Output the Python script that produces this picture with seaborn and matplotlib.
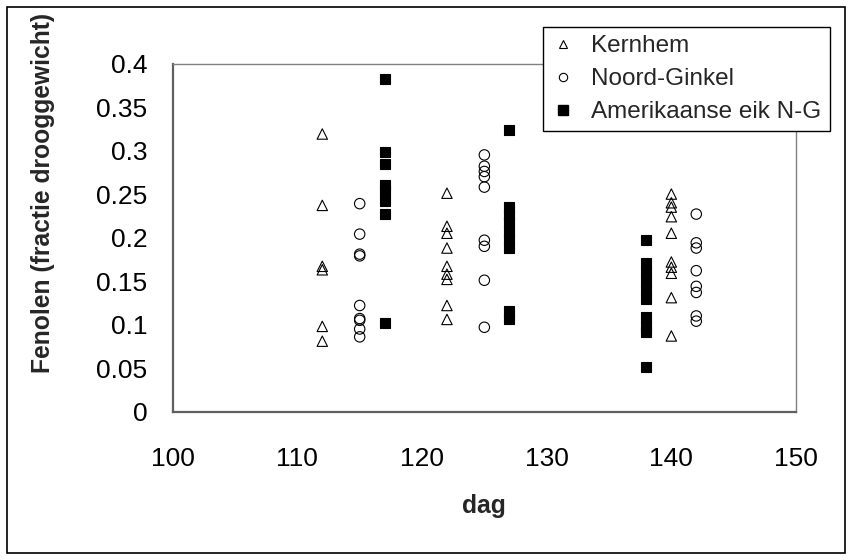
import matplotlib
matplotlib.use("Agg")
import matplotlib.pyplot as plt
from matplotlib.lines import Line2D
from matplotlib.patches import Rectangle
import numpy as np
import pandas as pd
import seaborn as sns

# Phenol content (fraction of dry weight) per sampling day, three sites
kernhem_dag = [112] * 6 + [122] * 9 + [140] * 10
kernhem_fenol = [0.319, 0.237, 0.167, 0.163, 0.098, 0.081,
                 0.251, 0.213, 0.205, 0.188, 0.167, 0.158, 0.152, 0.122, 0.106,
                 0.250, 0.240, 0.235, 0.224, 0.205, 0.172, 0.166, 0.159, 0.131, 0.087]

ginkel_dag = [115] * 9 + [125] * 9 + [142] * 8
ginkel_fenol = [0.239, 0.204, 0.181, 0.179, 0.122, 0.107, 0.105, 0.095, 0.086,
                0.295, 0.282, 0.276, 0.270, 0.258, 0.197, 0.190, 0.151, 0.097,
                0.227, 0.194, 0.188, 0.162, 0.144, 0.137, 0.110, 0.104]

eik_dag = [117] * 8 + [127] * 9 + [138] * 10
eik_fenol = [0.382, 0.298, 0.284, 0.260, 0.254, 0.242, 0.227, 0.102,
             0.324, 0.235, 0.226, 0.218, 0.208, 0.198, 0.188, 0.116, 0.106,
             0.197, 0.171, 0.160, 0.150, 0.140, 0.130, 0.109, 0.098, 0.092, 0.051]

series_names = ["Kernhem", "Noord-Ginkel", "Amerikaanse eik N-G"]
x_ticks = [100, 110, 120, 130, 140, 150]
y_ticks = [0, 0.05, 0.1, 0.15, 0.2, 0.25, 0.3, 0.35, 0.4]
y_tick_labels = ["0", "0.05", "0.1", "0.15", "0.2", "0.25", "0.3", "0.35", "0.4"]

df = pd.concat([
    pd.DataFrame({"dag": kernhem_dag, "fenol": kernhem_fenol, "locatie": series_names[0]}),
    pd.DataFrame({"dag": ginkel_dag, "fenol": ginkel_fenol, "locatie": series_names[1]}),
    pd.DataFrame({"dag": eik_dag, "fenol": eik_fenol, "locatie": series_names[2]}),
], ignore_index=True)

sns.set_theme(style="white")
plt.rcParams["font.family"] = ["Liberation Sans", "DejaVu Sans"]

W, H = 851, 560
fig = plt.figure(figsize=(W / 100, H / 100), dpi=100)
ax = fig.add_axes([172.7 / W, 1 - 411.7 / H, (796 - 172.7) / W, (411.7 - 63.5) / H])

styles = {
    series_names[0]: dict(marker="^", hollow=True),
    series_names[1]: dict(marker="o", hollow=True),
    series_names[2]: dict(marker="s", hollow=False),
}
for name in series_names:
    sub = df[df["locatie"] == name]
    st = styles[name]
    sns.scatterplot(data=sub, x="dag", y="fenol", ax=ax, marker=st["marker"],
                    color="black", edgecolor="black", s=56, linewidth=0.8,
                    legend=False, zorder=3)
    if st["hollow"]:
        ax.collections[-1].set_facecolor("none")

ax.set_xlim(100, 150)
ax.set_ylim(0, 0.4)
ax.set_xticks(x_ticks)
ax.set_yticks(y_ticks)
ax.set_yticklabels(y_tick_labels)
ax.tick_params(axis="both", direction="out", length=7.2, width=1.0,
               color="#606060", labelsize=19, labelcolor="black")
ax.tick_params(axis="y", pad=11)
ax.tick_params(axis="x", pad=18)
ax.set_xlabel("dag", fontsize=17.7, fontweight="bold", labelpad=17)
ax.set_ylabel("Fenolen (fractie drooggewicht)", fontsize=17.7, fontweight="bold")
ax.yaxis.set_label_coords(-0.189, 0.628)

for side in ["left", "bottom"]:
    ax.spines[side].set_color("#606060")
    ax.spines[side].set_linewidth(1.6)
for side in ["top", "right"]:
    ax.spines[side].set_color("#808080")
    ax.spines[side].set_linewidth(1.0)
ax.grid(False)

handles = [
    Line2D([], [], linestyle="none", marker="^", markersize=6, markerfacecolor="none",
           markeredgecolor="black", markeredgewidth=0.8),
    Line2D([], [], linestyle="none", marker="o", markersize=6, markerfacecolor="none",
           markeredgecolor="black", markeredgewidth=0.8),
    Line2D([], [], linestyle="none", marker="s", markersize=7, markerfacecolor="black",
           markeredgecolor="black"),
]
leg = ax.legend(handles, series_names, loc="upper left",
                bbox_to_anchor=(543 / W, 1 - 27 / H), bbox_transform=fig.transFigure,
                borderaxespad=0, fontsize=17.5, frameon=True, fancybox=False,
                framealpha=1, edgecolor="black", borderpad=0.34, handlelength=1.0,
                handletextpad=0.65, labelspacing=0.45)
leg.get_frame().set_linewidth(1.0)
leg.set_zorder(10)

# outer chart frame
fig.patches.append(Rectangle((7 / W, 7 / H), (845 - 7) / W, (553 - 7) / H,
                             transform=fig.transFigure, fill=False,
                             edgecolor="black", linewidth=1.2))

fig.savefig("out.png", dpi=100)
